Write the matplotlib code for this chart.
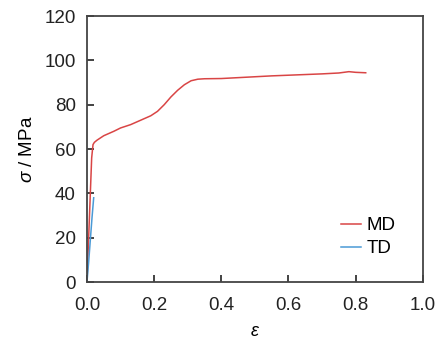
import matplotlib.pyplot as plt

plt.rcParams['font.family'] = ['Liberation Sans', 'DejaVu Sans']
plt.rcParams['mathtext.fontset'] = 'custom'
plt.rcParams['mathtext.it'] = 'Liberation Sans:italic'
plt.rcParams['mathtext.rm'] = 'Liberation Sans'

# MD curve (strain, stress)
md_eps = [0.0, 0.005, 0.01, 0.014, 0.018, 0.022, 0.03, 0.05, 0.08, 0.1, 0.13, 0.16, 0.19, 0.21,
          0.23, 0.25, 0.27, 0.29, 0.31, 0.33, 0.35, 0.4, 0.45, 0.5, 0.55, 0.6, 0.65, 0.7, 0.75,
          0.78, 0.8, 0.83]
md_sig = [0.0, 20.0, 40.0, 56.0, 62.0, 63.0, 64.0, 66.0, 68.0, 69.5, 71.0, 73.0, 75.0, 77.0,
          80.0, 83.5, 86.5, 89.0, 90.8, 91.5, 91.7, 91.8, 92.2, 92.6, 93.0, 93.3, 93.6, 93.9, 94.3,
          94.9, 94.6, 94.4]

# TD curve
td_eps = [0.0, 0.005, 0.01, 0.015, 0.02]
td_sig = [0.0, 9.0, 19.0, 29.0, 38.0]

fig = plt.figure(figsize=(4.46, 3.41), dpi=100)
ax = fig.add_axes([0.195, 0.173, 0.753, 0.780])

ax.plot(md_eps, md_sig, color='#d94545', lw=1.1, label='MD')
ax.plot(td_eps, td_sig, color='#4a9ad6', lw=1.1, label='TD')

ax.set_xlim(0, 1.0)
ax.set_ylim(0, 120)
ax.set_xticks([0.0, 0.2, 0.4, 0.6, 0.8, 1.0])
ax.set_yticks([0, 20, 40, 60, 80, 100, 120])
ax.set_xticklabels(['0.0', '0.2', '0.4', '0.6', '0.8', '1.0'])
ax.tick_params(direction='in', length=5, width=1.2, labelsize=13.5, colors='#222222')
ax.tick_params(axis='x', pad=11)
ax.tick_params(axis='y', pad=8)
for s in ax.spines.values():
    s.set_linewidth(1.3)
    s.set_color('#444444')

ax.set_xlabel(r'$\varepsilon$', fontsize=13, labelpad=6)
ax.set_ylabel(r'$\sigma$ / MPa', fontsize=13.5, labelpad=6)

ax.legend(loc='lower right', frameon=False, fontsize=13.5, handlelength=1.1,
          handletextpad=0.3, labelspacing=0.3, bbox_to_anchor=(0.97, 0.03))

fig.savefig('out.png', dpi=100)
